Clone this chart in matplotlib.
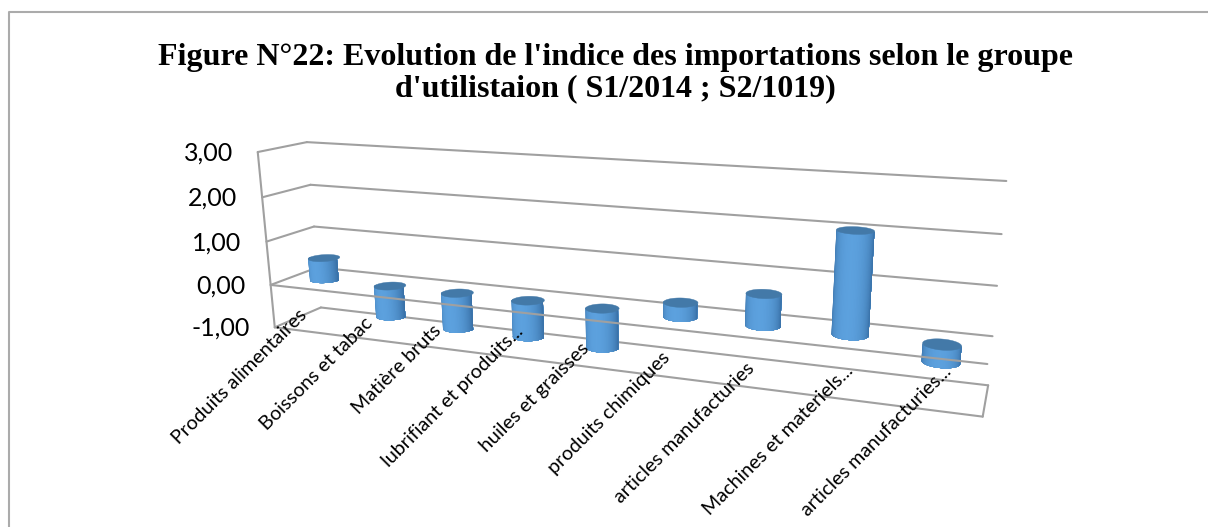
from matplotlib import pyplot as plt
from matplotlib.patches import Polygon
import numpy as np

categories = ["Produits alimentaires", "Boissons et tabac", "Matière bruts",
              "lubrifiant et produits...", "huiles et graisses", "produits chimiques",
              "articles manufacturies", "Machines et materiels...", "articles manufacturies..."]
values = [0.50, -0.70, -0.80, -0.80, -0.85, 0.30, 0.65, 2.05, -0.35]
ticks = [-1, 0, 1, 2, 3]
tick_labels = ["-1,00", "0,00", "1,00", "2,00", "3,00"]
title = "Figure N°22: Evolution de l'indice des importations selon le groupe\nd'utilistaion ( S1/2014 ; S2/1019)"

W, H = 1208, 527
GRID = "#a0a0a0"

# Corners of the plot box (category, depth, value) -> image pixel
# used to solve a camera matrix, Excel 3D charts have real perspective
n_cat = len(categories)
box_3d = [(0, 1, 3), (0, 1, -1), (n_cat, 1, 3), (n_cat, 1, -1), (0, 0, 3), (0, 0, -1),
          (n_cat, 0, -1), (0, 0, 0), (n_cat, 1, 0), (n_cat, 0, 0), (0, 1, 1), (n_cat, 1, 1)]
box_px = [(306.7, 142), (320.7, 307.7), (1006, 181), (988, 385), (257.5, 152), (274, 327),
          (982, 417), (271.7, 285), (993, 336), (988, 364), (314.3, 226.7), (997, 286)]


def solve_camera(pts3, pts2):
    rows = []
    for (x, d, v), (u, w) in zip(pts3, pts2):
        rows.append([x, d, v, 1, 0, 0, 0, 0, -u * x, -u * d, -u * v, -u])
        rows.append([0, 0, 0, 0, x, d, v, 1, -w * x, -w * d, -w * v, -w])
    _, _, vt = np.linalg.svd(np.array(rows, dtype=float))
    return vt[-1].reshape(3, 4)


CAM = solve_camera(box_3d, box_px)


def proj(x, d, v):
    x, d, v = np.broadcast_arrays(x, d, v)
    p = CAM @ np.vstack([x.ravel(), d.ravel(), v.ravel(), np.ones(x.size)])
    return p[0] / p[2], p[1] / p[2]


def line3d(ax, a, b, **kw):
    xs, ys = proj(*np.array([a, b], dtype=float).T)
    ax.plot(xs, ys, color=GRID, lw=1.5, solid_capstyle="round", **kw)


def side_color(s):
    # s goes 0..1 from left to right silhouette of the cylinder
    dark, light = np.array([0.215, 0.43, 0.64]), np.array([0.36, 0.63, 0.87])
    k = np.sin(np.pi * s) ** 0.9
    return dark + (light - dark) * k


def cylinder(ax, cx, val, rx=0.205, rd=0.2, n=40):
    lo, hi = min(0, val), max(0, val)
    t = np.linspace(np.pi, 2 * np.pi, n + 1)
    # each layer covers the rest of the side, avoids seams between strips
    for i in range(n):
        tt = t[i:]
        x_arc = cx + rx * np.cos(tt)
        d_arc = 0.5 + rd * np.sin(tt)
        x_low, y_low = proj(x_arc, d_arc, lo)
        x_up, y_up = proj(x_arc[::-1], d_arc[::-1], hi)
        pts = np.c_[np.r_[x_low, x_up], np.r_[y_low, y_up]]
        ax.add_patch(Polygon(pts, fc=side_color((i + 0.5) / n), ec="none", snap=False, zorder=3))
    # top cap
    t = np.linspace(0, 2 * np.pi, 80)
    xs, ys = proj(cx + rx * np.cos(t), 0.5 + rd * np.sin(t), hi)
    ax.add_patch(Polygon(np.c_[xs, ys], fc="#4379a8", ec="#4379a8", lw=0.3, snap=False, zorder=3.1))


fig = plt.figure(figsize=(W / 100, H / 100), dpi=100)
ax = fig.add_axes([0, 0, 1, 1])
ax.set_xlim(0, W)
ax.set_ylim(H, 0)
ax.axis("off")

# outer frame, cut by the crop at right and bottom
ax.plot([9, 9, W + 5], [H + 5, 12, 12], color="#ababab", lw=1.5)

ax.text(615, 73, title, ha="center", va="center", fontsize=23, fontweight="bold",
        family="Liberation Serif", linespacing=1.13, color="black")

# walls
for t in ticks:
    line3d(ax, (0, 1, t), (n_cat, 1, t), zorder=1)
    line3d(ax, (0, 0, t), (0, 1, t), zorder=1)
line3d(ax, (0, 0, -1), (0, 0, 3), zorder=1)
# floor
line3d(ax, (0, 0, -1), (n_cat, 0, -1), zorder=1)
line3d(ax, (n_cat, 0, -1), (n_cat, 1, -1), zorder=1)

for i, val in enumerate(values):
    cylinder(ax, i + 0.5, val)

# zero line at the front goes over the bars
line3d(ax, (0, 0, 0), (n_cat, 0, 0), zorder=4)

for t, lab in zip(ticks, tick_labels):
    px, py = proj(0, 0, t)
    ax.text(px[0] - 25, py[0] + 1, lab, ha="right", va="center", fontsize=18,
            family="Lato", color="black", zorder=5)

for i, lab in enumerate(categories):
    px, py = proj(i + 0.5, 0, -0.55)
    # truncated labels end further up the slope
    if lab.endswith("..."):
        px, py = px + 10, py - 8
    if i == n_cat - 1:
        px, py = px + 3, py - 10
    ax.text(px[0], py[0], lab, rotation=45, rotation_mode="anchor", ha="right", va="center",
            fontsize=14.2, family="Lato", color="black", zorder=5)

plt.savefig("out.png", dpi=100)
plt.close()
